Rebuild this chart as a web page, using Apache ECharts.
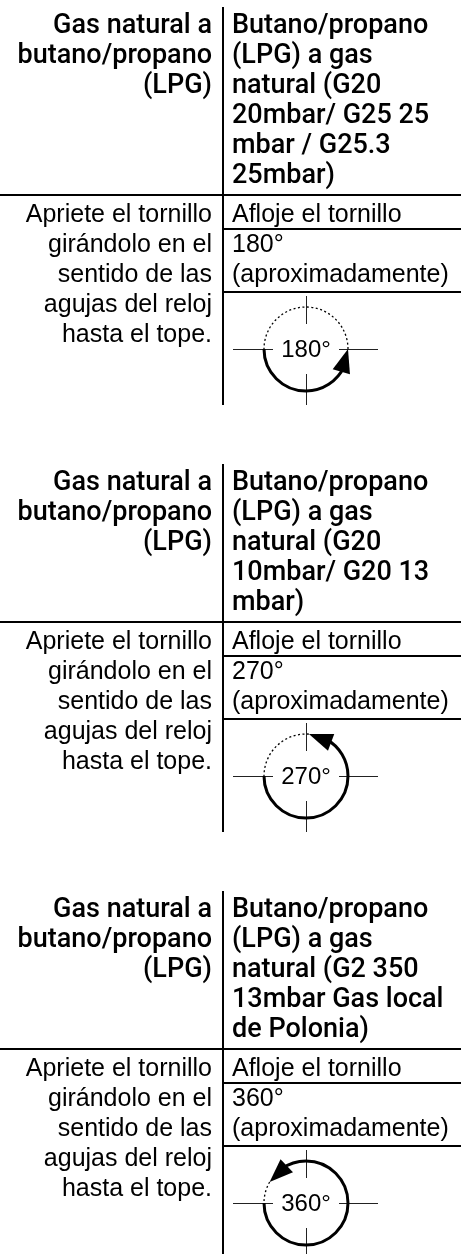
<!DOCTYPE html>
<html><head><meta charset="utf-8">
<script src="https://cdn.jsdelivr.net/npm/echarts@6/dist/echarts.min.js"></script>
<style>html,body{margin:0;padding:0;background:#fff}#c{width:461px;height:1254px}</style>
</head><body><div id="c"></div>
<script>
// ---- data ----
const headerLeft = ['Gas natural a', 'butano/propano', '(LPG)'];
const headerRightA = ['Butano/propano', '(LPG) a gas', 'natural (G20', '20mbar/ G25 25', 'mbar / G25.3', '25mbar)'];
const headerRightB = ['Butano/propano', '(LPG) a gas', 'natural (G20', '10mbar/ G20 13', 'mbar)'];
const headerRightC = ['Butano/propano', '(LPG) a gas', 'natural (G2 350', '13mbar Gas local', 'de Polonia)'];
const headerRight = [headerRightA, headerRightB, headerRightC];
const bodyLeft = ['Apriete el tornillo', 'girándolo en el', 'sentido de las', 'agujas del reloj', 'hasta el tope.'];
const bodyRightTitle = 'Afloje el tornillo';
const approxLabel = '(aproximadamente)';
const turnLabels = ['180°', '270°', '360°'];
const turnDegrees = [180, 270, 360];      // total rotation
const arrowTipDegrees = [180, 266, 330];  // where the drawn arrow tip sits

// ---- layout ----
const W = 461, Hh = 1254;
const DIV_X = 223, LEFT_R = 212, RIGHT_L = 232;
const FIRST_TOP = 7, LINE = 30, GAP = 59;
const HEAD_FONT = "500 27px Roboto";
const BODY_FONT = "25px 'Liberation Sans'";
const DEG_FONT = "24px 'Liberation Sans'";

function blockTop(i) {
  let t = FIRST_TOP;
  for (let k = 0; k < i; k++) t += 8 + LINE * headerRight[k].length + 210 + GAP;
  return t;
}

const chart = echarts.init(document.getElementById('c'), null, {renderer: 'canvas'});

function renderItem(params, api) {
  const idx = api.value(0);
  const p = (x, y) => api.coord([x, y]);
  const T = blockTop(idx);
  const H = T + 8 + LINE * headerRight[idx].length;
  const ch = [];
  const line = (x1, y1, x2, y2, w, c, dash) => {
    const a = p(x1, y1), b = p(x2, y2);
    ch.push({type: 'line', shape: {x1: a[0], y1: a[1], x2: b[0], y2: b[1]},
      style: {stroke: c || '#000', lineWidth: w, lineDash: dash || null}});
  };
  const text = (s, x, y, align, font) => {
    const a = p(x, y);
    ch.push({type: 'text', x: a[0], y: a[1],
      style: {text: s, font: font, fill: '#000', align: align, verticalAlign: 'middle'}});
  };
  // rules
  line(DIV_X, T, DIV_X, H + 210, 2);
  line(0, H, W, H, 2);
  line(DIV_X, H + 34, W, H + 34, 2);
  line(DIV_X, H + 97, W, H + 97, 2);
  // header
  headerLeft.forEach((s, i) => text(s, LEFT_R, T + 19 + LINE * i, 'right', HEAD_FONT));
  headerRight[idx].forEach((s, i) => text(s, RIGHT_L, T + 19 + LINE * i, 'left', HEAD_FONT));
  // body
  bodyLeft.forEach((s, i) => text(s, LEFT_R, H + 20 + LINE * i, 'right', BODY_FONT));
  text(bodyRightTitle, RIGHT_L, H + 20, 'left', BODY_FONT);
  text(turnLabels[idx], RIGHT_L, H + 50, 'left', BODY_FONT);
  text(approxLabel, RIGHT_L, H + 80, 'left', BODY_FONT);
  // dial
  const cxD = 306, cyD = H + 154, rD = 42;
  const c = p(cxD, cyD);
  const r = Math.abs(p(cxD + rD, cyD)[0] - c[0]);
  line(cxD - 73, cyD + 0.5, cxD - 33, cyD + 0.5, 1, '#222');
  line(cxD + 33, cyD + 0.5, cxD + 72, cyD + 0.5, 1, '#222');
  line(cxD + 0.5, cyD - 53, cxD + 0.5, cyD - 25, 1, '#222');
  line(cxD + 0.5, cyD + 25, cxD + 0.5, cyD + 56, 1, '#222');
  const start = Math.PI;
  const tip = Math.PI - arrowTipDegrees[idx] * Math.PI / 180;
  const endAll = Math.PI - 2 * Math.PI;
  const L = 24, hw = 9;
  const baseAng = tip + L / r;
  // solid arc
  ch.push({type: 'arc', shape: {cx: c[0], cy: c[1], r: r, startAngle: start, endAngle: tip + (L - 6) / r, clockwise: false},
    style: {stroke: '#000', lineWidth: 3, fill: null}});
  // dotted remainder
  if (tip - endAll > 0.01) {
    ch.push({type: 'arc', shape: {cx: c[0], cy: c[1], r: r, startAngle: tip, endAngle: endAll, clockwise: false},
      style: {stroke: '#000', lineWidth: 1.3, lineDash: [2, 2.5], fill: null}});
  }
  // arrowhead
  const tx = c[0] + r * Math.cos(tip), ty = c[1] + r * Math.sin(tip);
  const bx = c[0] + r * Math.cos(baseAng), by = c[1] + r * Math.sin(baseAng);
  let ux = tx - bx, uy = ty - by; const ul = Math.hypot(ux, uy); ux /= ul; uy /= ul;
  const nx = -uy, ny = ux;
  ch.push({type: 'polygon', shape: {points: [[tx, ty], [bx + nx * hw, by + ny * hw], [bx - nx * hw, by - ny * hw]]},
    style: {fill: '#000'}});
  text(turnLabels[idx], cxD, cyD + 1, 'center', DEG_FONT);
  return {type: 'group', children: ch};
}

chart.setOption({
  animation: false,
  grid: {left: 0, right: 0, top: 0, bottom: 0},
  xAxis: {type: 'value', min: 0, max: W, show: false},
  yAxis: {type: 'value', min: 0, max: Hh, inverse: true, show: false},
  series: [{
    type: 'custom',
    coordinateSystem: 'cartesian2d',
    renderItem: renderItem,
    clip: false,
    data: turnDegrees.map((d, i) => [i, d])
  }]
});
</script>
</body></html>
